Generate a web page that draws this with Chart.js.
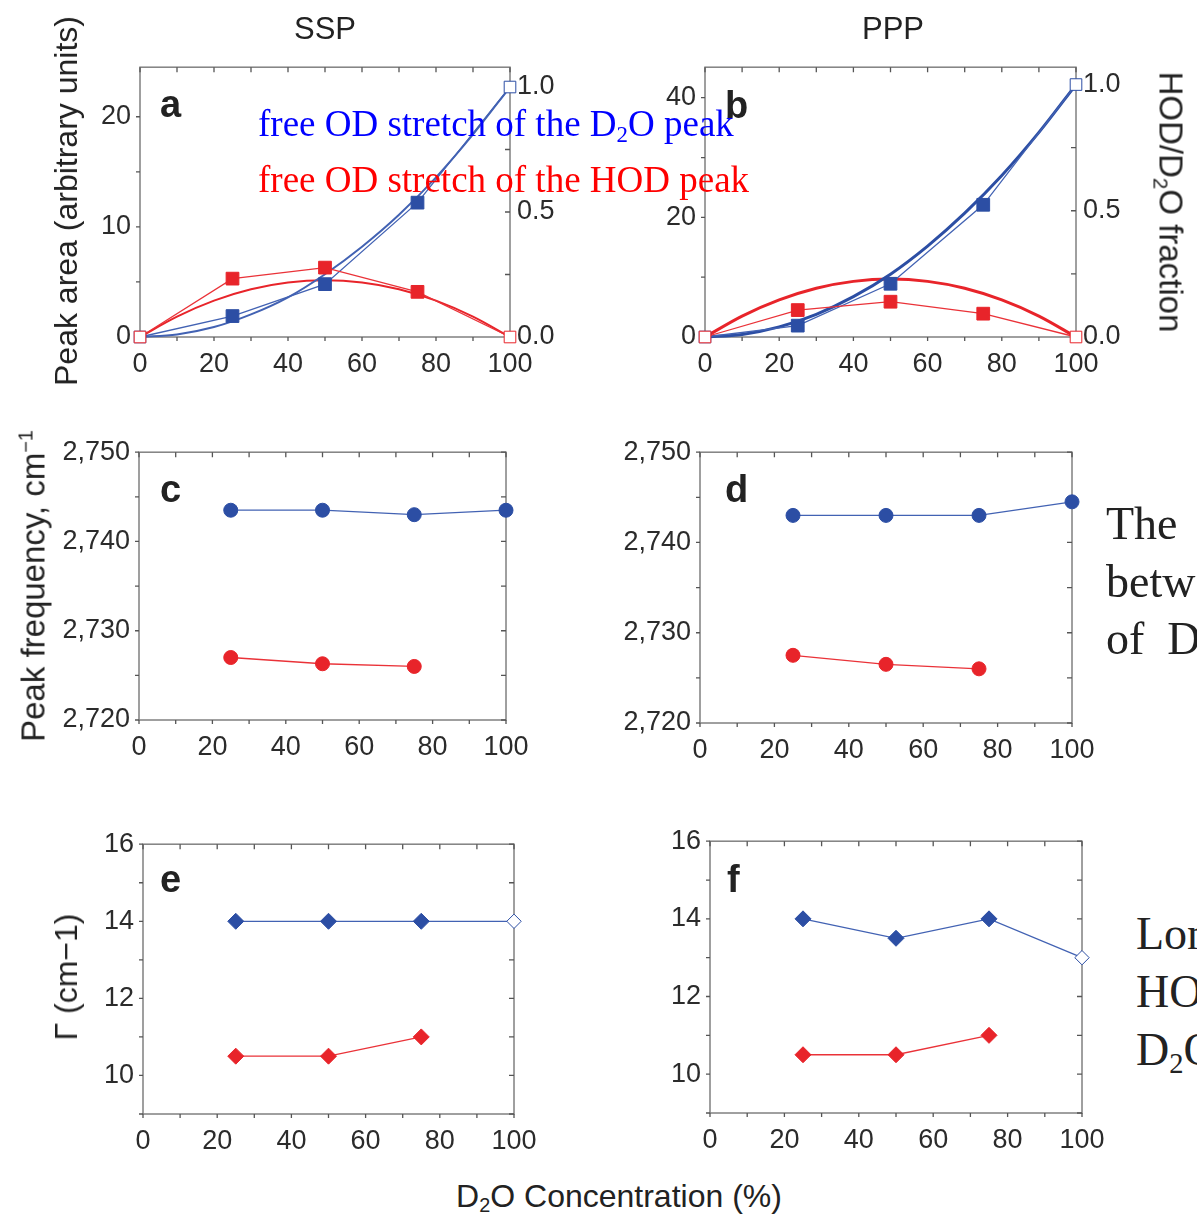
<!DOCTYPE html>
<html>
<head>
<meta charset="utf-8">
<script src="https://cdn.jsdelivr.net/npm/chart.js@4.4.1/dist/chart.umd.min.js"></script>
<style>
  html, body { margin: 0; padding: 0; background: #fff; }
  body { position: relative; width: 1197px; height: 1216px; overflow: hidden; color: #222; }
  canvas { position: absolute; }
  .txt { position: absolute; white-space: nowrap; }
  .sub { font-size: 0.62em; position: relative; top: 0.28em; }
  .sup { font-size: 0.6em; position: relative; top: -0.6em; }
</style>
</head>
<body>
<script>
// D2O concentration (%) of the measured points
const concArea = [0, 25, 50, 75, 100];
const concD2O = [25, 50, 75, 100];
const concHOD = [25, 50, 75];
const concFit = [0, 10, 20, 30, 40, 50, 60, 70, 80, 90, 100];

// a, b: peak areas (arbitrary units)
const sspAreaD2O = [0, 1.9, 4.8, 12.2, 22.7];
const sspAreaHOD = [0, 5.3, 6.3, 4.1, 0];
const pppAreaD2O = [0, 1.9, 8.9, 22.1, 42.2];
const pppAreaHOD = [0, 4.5, 5.9, 3.9, 0];

const sspFitD2O = [0, 0.23, 0.9, 2.05, 3.6, 5.7, 8.2, 11.1, 14.5, 18.4, 22.7];
const sspFitHOD = [0, 1.85, 3.3, 4.33, 4.94, 5.15, 4.94, 4.33, 3.3, 1.85, 0];
const pppFitD2O = [0, 0.42, 1.7, 3.8, 6.75, 10.5, 15.2, 20.7, 27.0, 34.2, 42.2];
const pppFitHOD = [0, 3.5, 6.2, 8.15, 9.3, 9.7, 9.3, 8.15, 6.2, 3.5, 0];

// c, d: peak frequency (cm-1)
const sspFreqD2O = [2743.5, 2743.5, 2743.0, 2743.5];
const sspFreqHOD = [2727.0, 2726.3, 2726.0];
const pppFreqD2O = [2743.0, 2743.0, 2743.0, 2744.5];
const pppFreqHOD = [2727.5, 2726.5, 2726.0];

// e, f: linewidth Γ (cm-1)
const sspWidthD2O = [14, 14, 14, 14];
const sspWidthHOD = [10.5, 10.5, 11];
const pppWidthD2O = [14, 13.5, 14, 13];
const pppWidthHOD = [10.5, 10.5, 11];

// tick labels
const xTicks = [0, 20, 40, 60, 80, 100];
const sspAreaTicks = [0, 10, 20];
const pppAreaTicks = [0, 20, 40];
const fracTicks = [0, 0.5, 1.0];
const freqTicks = [2720, 2730, 2740, 2750];
const widthTicks = [10, 12, 14, 16];

// hollow markers (pure-component endpoints)
const hollowArea = [0, 100];
const hollowWidth = [100];

const BLUE = '#2c4ea4';
const BLUE_LINE = '#4262b3';
const RED = '#e8242a';
const RED_LINE = '#ea3238';

Chart.defaults.font.family = "'Liberation Sans', Arial, sans-serif";
Chart.defaults.font.size = 27;
Chart.defaults.color = '#2b2b2b';

// frame around the plot area plus short minor/major tick marks
const frameTicks = {
  id: 'frameTicks',
  beforeDatasetsDraw(chart, args, o) {
    const { ctx, chartArea: a, scales } = chart;
    ctx.save();
    ctx.strokeStyle = '#808080';
    ctx.lineWidth = 1.5;
    ctx.strokeRect(a.left, a.top, a.right - a.left, a.bottom - a.top);
    ctx.strokeStyle = '#555';
    ctx.lineWidth = 1.3;
    const each = (scale, step, fn) => {
      const first = Math.ceil(scale.min / step - 1e-6);
      const last = Math.floor(scale.max / step + 1e-6);
      for (let i = first; i <= last; i++) fn(scale.getPixelForValue(i * step));
    };
    ctx.beginPath();
    each(scales.x, o.x, p => {
      ctx.moveTo(p, a.bottom); ctx.lineTo(p, a.bottom + 4);
      ctx.moveTo(p, a.top); ctx.lineTo(p, a.top + 5);
    });
    each(scales.y, o.y, p => {
      ctx.moveTo(a.left, p); ctx.lineTo(a.left - 4, p);
      if (!scales.y2) { ctx.moveTo(a.right, p); ctx.lineTo(a.right - 5, p); }
    });
    if (scales.y2) each(scales.y2, o.y2, p => { ctx.moveTo(a.right, p); ctx.lineTo(a.right - 5, p); });
    ctx.stroke();
    ctx.restore();
  }
};

function points(xs, ys) {
  return xs.map((x, i) => ({ x: x, y: ys[i] }));
}

function measured(xs, ys, color, lineColor, shape, radius, hollow) {
  const isHollow = c => c.raw !== undefined && hollow.includes(c.raw.x);
  return {
    data: points(xs, ys),
    borderColor: lineColor,
    borderWidth: 1.3,
    tension: 0,
    pointStyle: shape,
    pointRadius: c => isHollow(c) ? radius - 0.8 : radius,
    pointBackgroundColor: c => isHollow(c) ? '#fff' : color,
    pointBorderColor: color,
    pointBorderWidth: 1,
    clip: false
  };
}

function curve(ys, color, width) {
  return {
    data: points(concFit, ys),
    borderColor: color,
    borderWidth: width,
    pointRadius: 0,
    cubicInterpolationMode: 'monotone',
    clip: false
  };
}

function fixedTicks(list) {
  return scale => { scale.ticks = list.map(v => ({ value: v })); };
}

const noGrid = { display: false, drawTicks: false };

function panel(box, datasets, y, y2, minor) {
  const LW = 100, PT = 20, XH = 50, RW = y2 ? 95 : 40;
  const cv = document.createElement('canvas');
  cv.width = LW + box.w + RW;
  cv.height = PT + box.h + XH;
  cv.style.left = (box.x - LW) + 'px';
  cv.style.top = (box.y - PT) + 'px';
  document.body.appendChild(cv);

  const scales = {
    x: {
      type: 'linear', min: 0, max: 100,
      grid: noGrid, border: { display: false },
      afterBuildTicks: fixedTicks(xTicks),
      afterFit: s => { s.height = XH; },
      ticks: { padding: 11, maxRotation: 0, autoSkip: false }
    },
    y: {
      type: 'linear', min: y.min, max: y.max,
      grid: noGrid, border: { display: false },
      afterBuildTicks: fixedTicks(y.ticks),
      afterFit: s => { s.width = LW; },
      ticks: { padding: 9, autoSkip: false, callback: y.fmt || (v => v) }
    }
  };
  if (y2) {
    scales.y2 = {
      type: 'linear', position: 'right', min: y2.min, max: y2.max,
      grid: noGrid, border: { display: false },
      afterBuildTicks: fixedTicks(y2.ticks),
      afterFit: s => { s.width = RW; },
      ticks: { padding: 7, autoSkip: false, callback: v => v.toFixed(1) }
    };
  }

  new Chart(cv, {
    type: 'line',
    data: { datasets: datasets },
    options: {
      responsive: false,
      animation: false,
      layout: { padding: { top: PT, right: y2 ? 0 : RW, left: 0, bottom: 0 } },
      plugins: { legend: { display: false }, tooltip: { enabled: false }, frameTicks: minor },
      scales: scales
    },
    plugins: [frameTicks]
  });
}

// a: SSP peak areas
const sspAreaMax = 24.5;
panel({ x: 140, y: 62, w: 370, h: 275 }, [
  measured(concArea, sspAreaHOD, RED, RED_LINE, 'rect', 9, hollowArea),
  measured(concArea, sspAreaD2O, BLUE, BLUE_LINE, 'rect', 9, hollowArea),
  curve(sspFitD2O, BLUE_LINE, 2),
  curve(sspFitHOD, RED, 2)
], { min: 0, max: sspAreaMax, ticks: sspAreaTicks },
   { min: 0, max: sspAreaMax / sspAreaD2O[4], ticks: fracTicks },
   { x: 10, y: 5, y2: 0.25 });

// b: PPP peak areas
const pppAreaMax = 45.1;
panel({ x: 705, y: 62, w: 371, h: 275 }, [
  measured(concArea, pppAreaHOD, RED, RED_LINE, 'rect', 9, hollowArea),
  measured(concArea, pppAreaD2O, BLUE, BLUE_LINE, 'rect', 9, hollowArea),
  curve(pppFitD2O, BLUE, 3),
  curve(pppFitHOD, RED, 3)
], { min: 0, max: pppAreaMax, ticks: pppAreaTicks },
   { min: 0, max: pppAreaMax / pppAreaD2O[4], ticks: fracTicks },
   { x: 10, y: 10, y2: 0.25 });

const freqFmt = v => v.toLocaleString('en-US');

// c, d: peak frequencies
panel({ x: 139, y: 447, w: 367, h: 273 }, [
  measured(concHOD, sspFreqHOD, RED, RED_LINE, 'circle', 7, []),
  measured(concD2O, sspFreqD2O, BLUE, BLUE_LINE, 'circle', 7, [])
], { min: 2720, max: 2750, ticks: freqTicks, fmt: freqFmt }, null, { x: 10, y: 5 });

panel({ x: 700, y: 447, w: 372, h: 276 }, [
  measured(concHOD, pppFreqHOD, RED, RED_LINE, 'circle', 7, []),
  measured(concD2O, pppFreqD2O, BLUE, BLUE_LINE, 'circle', 7, [])
], { min: 2720, max: 2750, ticks: freqTicks, fmt: freqFmt }, null, { x: 10, y: 5 });

// e, f: linewidths
panel({ x: 143, y: 839, w: 371, h: 275 }, [
  measured(concHOD, sspWidthHOD, RED, RED_LINE, 'rectRot', 8, hollowWidth),
  measured(concD2O, sspWidthD2O, BLUE, BLUE_LINE, 'rectRot', 8, hollowWidth)
], { min: 9, max: 16, ticks: widthTicks }, null, { x: 10, y: 1 });

panel({ x: 710, y: 836, w: 372, h: 277 }, [
  measured(concHOD, pppWidthHOD, RED, RED_LINE, 'rectRot', 8, hollowWidth),
  measured(concD2O, pppWidthD2O, BLUE, BLUE_LINE, 'rectRot', 8, hollowWidth)
], { min: 9, max: 16, ticks: widthTicks }, null, { x: 10, y: 1 });

// text placed by baseline
function text(html, x, base, size, o) {
  o = o || {};
  const d = document.createElement('div');
  d.className = 'txt';
  d.innerHTML = html;
  const fam = o.serif ? "'Liberation Serif', 'Times New Roman', serif" : "'Liberation Sans', Arial, sans-serif";
  d.style.font = (o.bold ? 'bold ' : '') + size + 'px/1 ' + fam;
  d.style.left = x + 'px';
  d.style.top = (base - size * (o.serif ? 0.8375 : 0.847)) + 'px';
  if (o.center) d.style.transform = 'translateX(-50%)';
  if (o.color) d.style.color = o.color;
  document.body.appendChild(d);
}

// rotated text placed by its centre
function vtext(html, cx, cy, size, deg) {
  const d = document.createElement('div');
  d.className = 'txt';
  d.innerHTML = html;
  d.style.font = size + "px/1 'Liberation Sans', Arial, sans-serif";
  d.style.left = cx + 'px';
  d.style.top = cy + 'px';
  d.style.transform = 'translate(-50%, -50%) rotate(' + deg + 'deg)';
  document.body.appendChild(d);
}

text('SSP', 325, 39, 31, { center: true });
text('PPP', 893, 39, 31, { center: true });

vtext('Peak area (arbitrary units)', 66, 201, 32, -90);
vtext('HOD/D<span class="sub">2</span>O fraction', 1171, 202, 33, 90);
vtext('Peak frequency, cm<span class="sup">&minus;1</span>', 33, 586, 33, -90);
vtext('&Gamma; (cm&minus;1)', 66, 977, 32, -90);

text('D<span class="sub">2</span>O Concentration (%)', 619, 1207, 32, { center: true });

text('a', 160, 117, 38, { bold: true });
text('b', 725, 118, 38, { bold: true });
text('c', 160, 502, 38, { bold: true });
text('d', 725, 502, 38, { bold: true });
text('e', 160, 892, 38, { bold: true });
text('f', 727, 892, 38, { bold: true });

text('free OD stretch of the D<span class="sub">2</span>O peak', 258, 136, 37, { serif: true, color: '#0000ff' });
text('free OD stretch of the HOD peak', 258, 192, 37, { serif: true, color: '#ff0000' });

text('The', 1106, 540, 46, { serif: true });
text('between', 1106, 598, 46, { serif: true });
text('of&nbsp; D<span class="sub">2</span>O', 1106, 655, 46, { serif: true });
text('Longer', 1136, 950, 46, { serif: true });
text('HOD', 1136, 1008, 46, { serif: true });
text('D<span class="sub">2</span>O', 1136, 1066, 46, { serif: true });
</script>
</body>
</html>
